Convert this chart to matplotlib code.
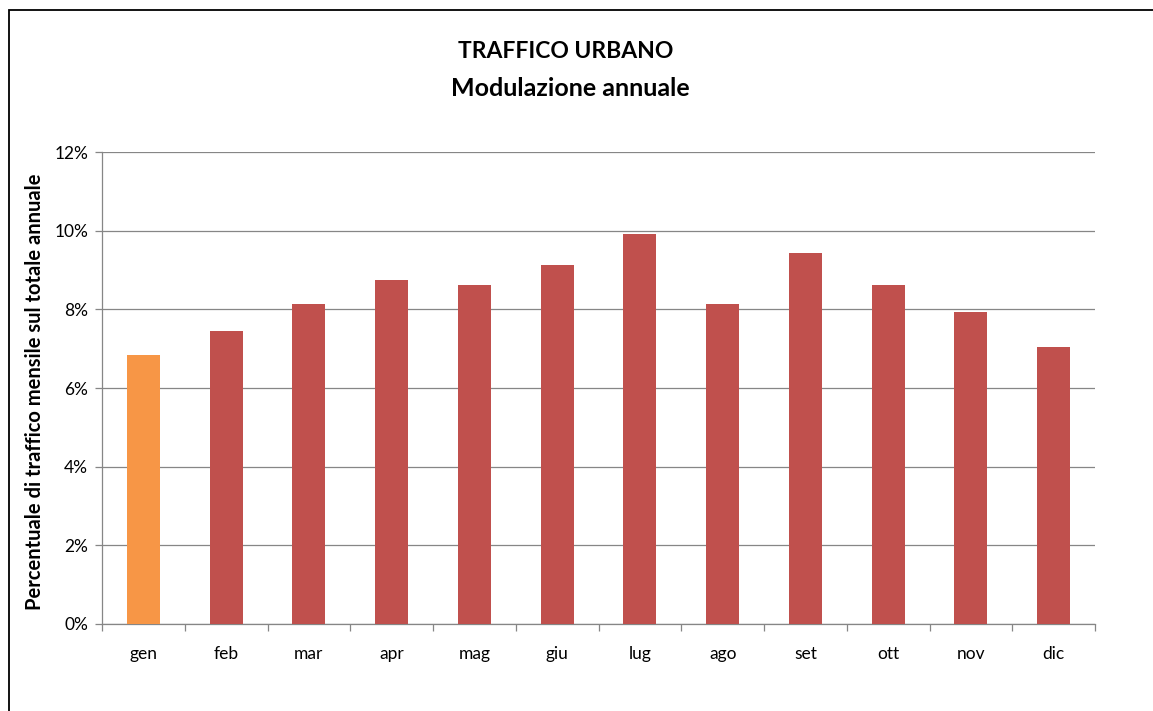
import matplotlib
matplotlib.use("Agg")
import matplotlib.pyplot as plt
from matplotlib.patches import Rectangle
from matplotlib.ticker import FuncFormatter, MultipleLocator

months = ["gen", "feb", "mar", "apr", "mag", "giu", "lug", "ago", "set", "ott", "nov", "dic"]
values = [6.84, 7.45, 8.14, 8.75, 8.62, 9.13, 9.92, 8.14, 9.43, 8.62, 7.93, 7.04]
colors = ["#F79646"] + ["#C0504D"] * 11

plt.rcParams['font.family'] = ['Lato', 'DejaVu Sans']

W, H = 1153, 711
fig = plt.figure(figsize=(W / 100, H / 100), dpi=100)
fig.patch.set_facecolor("white")

# outer chart border
fig.patches.append(Rectangle((9 / W, 1 - 10 / H - 2), 2, 2, transform=fig.transFigure,
                             fill=False, edgecolor="black", linewidth=1.3))

left, right, top, bottom = 102, 1095, 152, 624
ax = fig.add_axes([left / W, 1 - bottom / H, (right - left) / W, (bottom - top) / H])

x = list(range(len(months)))
ax.bar(x, values, width=0.4, color=colors, zorder=3)
ax.set_xlim(-0.5, len(months) - 0.5)
ax.set_ylim(0, 12)
ax.yaxis.set_major_locator(MultipleLocator(2))
ax.yaxis.set_major_formatter(FuncFormatter(lambda v, p: f"{v:.0f}%"))
ax.grid(axis="y", color="#868686", linewidth=0.9, zorder=0)

ax.set_xticks(x)
ax.set_xticklabels(months, fontsize=12.5)
ax.set_xticks([i - 0.5 for i in range(len(months) + 1)], minor=True)
ax.tick_params(axis="x", which="major", length=0, pad=16)
ax.tick_params(axis="x", which="minor", length=5, color="#868686", width=0.9)
ax.tick_params(axis="y", length=5, color="#868686", width=0.9, labelsize=12.5, pad=5)

for s in ["top", "right"]:
    ax.spines[s].set_visible(False)
for s in ["left", "bottom"]:
    ax.spines[s].set_color("#868686")
    ax.spines[s].set_linewidth(0.9)

fig.text(35 / W, 1 - 392 / H, "Percentuale di traffico mensile sul totale annuale",
         rotation=90, ha="center", va="center", fontsize=14.5, fontweight="bold")

fig.text(566 / W, 1 - 52 / H, "TRAFFICO URBANO", ha="center", va="center",
         fontsize=16.5, fontweight="bold")
fig.text(570 / W, 1 - 88 / H, "Modulazione annuale", ha="center", va="center",
         fontsize=18, fontweight="bold")

fig.savefig("out.png", dpi=100, facecolor="white")
